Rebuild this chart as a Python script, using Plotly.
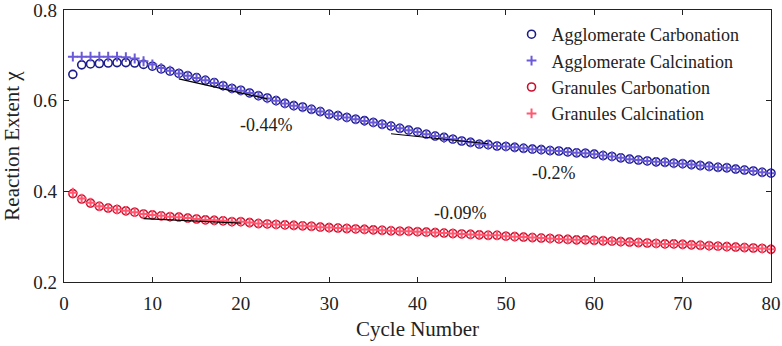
import plotly.graph_objects as go

cycles = list(range(1, 81))

agg_carbonation = [
    0.658, 0.679, 0.681, 0.682, 0.683, 0.684, 0.684, 0.683, 0.680, 0.676,
    0.670, 0.665, 0.660, 0.655, 0.651, 0.645, 0.640, 0.633, 0.627, 0.623,
    0.617, 0.611, 0.606, 0.600, 0.594, 0.589, 0.586, 0.581, 0.576, 0.570,
    0.567, 0.563, 0.559, 0.556, 0.552, 0.548, 0.544, 0.539, 0.535, 0.531,
    0.526, 0.522, 0.519, 0.515, 0.511, 0.508, 0.504, 0.503, 0.500, 0.499,
    0.497, 0.495, 0.493, 0.492, 0.490, 0.489, 0.487, 0.485, 0.484, 0.482,
    0.479, 0.477, 0.474, 0.471, 0.469, 0.467, 0.465, 0.464, 0.462, 0.461,
    0.459, 0.457, 0.455, 0.453, 0.452, 0.449, 0.447, 0.445, 0.442, 0.440]

agg_calcination = [
    0.697, 0.697, 0.697, 0.697, 0.697, 0.697, 0.696, 0.693, 0.687, 0.680,
    0.672, 0.666, 0.660, 0.655, 0.650, 0.645, 0.639, 0.633, 0.627, 0.622,
    0.617, 0.611, 0.605, 0.600, 0.594, 0.589, 0.585, 0.581, 0.576, 0.570,
    0.567, 0.563, 0.559, 0.555, 0.552, 0.548, 0.544, 0.539, 0.535, 0.531,
    0.526, 0.522, 0.518, 0.515, 0.511, 0.508, 0.504, 0.503, 0.500, 0.499,
    0.497, 0.495, 0.493, 0.492, 0.490, 0.489, 0.487, 0.485, 0.484, 0.482,
    0.479, 0.477, 0.474, 0.471, 0.469, 0.467, 0.465, 0.464, 0.462, 0.461,
    0.459, 0.457, 0.455, 0.453, 0.452, 0.449, 0.447, 0.445, 0.442, 0.440]

gran_carbonation = [
    0.395, 0.383, 0.374, 0.367, 0.363, 0.360, 0.357, 0.354, 0.350, 0.348,
    0.346, 0.344, 0.343, 0.341, 0.339, 0.337, 0.336, 0.335, 0.333, 0.333,
    0.331, 0.329, 0.328, 0.327, 0.326, 0.325, 0.324, 0.323, 0.321, 0.320,
    0.319, 0.318, 0.317, 0.316, 0.315, 0.314, 0.313, 0.312, 0.312, 0.311,
    0.310, 0.309, 0.308, 0.307, 0.306, 0.305, 0.304, 0.303, 0.303, 0.301,
    0.300, 0.299, 0.298, 0.297, 0.296, 0.295, 0.294, 0.293, 0.293, 0.292,
    0.291, 0.290, 0.289, 0.288, 0.287, 0.286, 0.285, 0.284, 0.284, 0.283,
    0.282, 0.281, 0.280, 0.279, 0.278, 0.277, 0.276, 0.275, 0.274, 0.272]

gran_calcination = [
    0.397, 0.384, 0.375, 0.367, 0.363, 0.360, 0.357, 0.354, 0.350, 0.348,
    0.346, 0.344, 0.343, 0.341, 0.339, 0.337, 0.336, 0.335, 0.333, 0.333,
    0.331, 0.329, 0.328, 0.327, 0.326, 0.325, 0.324, 0.323, 0.321, 0.320,
    0.319, 0.318, 0.317, 0.316, 0.315, 0.314, 0.313, 0.312, 0.312, 0.311,
    0.310, 0.309, 0.308, 0.307, 0.306, 0.305, 0.304, 0.303, 0.303, 0.301,
    0.300, 0.299, 0.298, 0.297, 0.296, 0.295, 0.294, 0.293, 0.293, 0.292,
    0.291, 0.290, 0.289, 0.288, 0.287, 0.286, 0.285, 0.284, 0.284, 0.283,
    0.282, 0.281, 0.280, 0.279, 0.278, 0.277, 0.276, 0.275, 0.274, 0.272]

# trend lines (cycle start/end, value start/end) and labels
trend_x = [[13, 23], [37, 48], [9, 20]]
trend_y = [[0.648, 0.604], [0.527, 0.505], [0.340, 0.330]]
trend_labels = ["-0.44%", "-0.2%", "-0.09%"]
label_x = [22.9, 55.4, 44.9]
label_y = [0.546, 0.440, 0.352]

x_ticks = [0, 10, 20, 30, 40, 50, 60, 70, 80]
y_ticks = [0.2, 0.4, 0.6, 0.8]

FONT = "Liberation Serif"
TXT = "#222"

fig = go.Figure()

series = [
    ("Agglomerate Carbonation", agg_carbonation, "circle-open", "#1b1b8a", 8, 1.6),
    ("Agglomerate Calcination", agg_calcination, "cross-thin-open", "#6a5ad8", 7, 2),
    ("Granules Carbonation", gran_carbonation, "circle-open", "#c8102e", 8, 1.6),
    ("Granules Calcination", gran_calcination, "cross-thin-open", "#ff5870", 7, 2),
]
for i, (name, vals, sym, col, size, lw) in enumerate(series):
    fig.add_trace(go.Scatter(
        x=cycles, y=vals, mode="markers", name=name,
        legendgroup=f"g{i}",
        marker=dict(symbol=sym, size=size, color=col, line=dict(color=col, width=lw)),
        cliponaxis=False,
    ))

for tx, ty in zip(trend_x, trend_y):
    fig.add_trace(go.Scatter(x=tx, y=ty, mode="lines", showlegend=False,
                             line=dict(color="black", width=1.2), hoverinfo="skip"))

for lx, ly, lt in zip(label_x, label_y, trend_labels):
    fig.add_annotation(x=lx, y=ly, text=lt, showarrow=False,
                       font=dict(family=FONT, size=18, color=TXT))

axis_common = dict(
    showgrid=False, zeroline=False, showline=True, linecolor=TXT, linewidth=1.2,
    mirror="allticks", ticks="inside", ticklen=5, tickcolor=TXT, tickwidth=1.2,
    tickfont=dict(family=FONT, size=19, color=TXT), automargin=False,
    ticklabeloverflow="allow",
)

fig.update_layout(
    width=782, height=346,
    margin=dict(l=64, r=11, t=10, b=64),
    paper_bgcolor="white", plot_bgcolor="white",
    xaxis=dict(range=[0, 80], tickvals=x_ticks, ticklabelstandoff=4,
               title=dict(text="Cycle Number", font=dict(family=FONT, size=21, color=TXT), standoff=8),
               **axis_common),
    yaxis=dict(range=[0.2, 0.8], tickvals=y_ticks, tickformat=".1f", ticklabelstandoff=2,
               title=dict(text="Reaction Extent χ", font=dict(family=FONT, size=21, color=TXT), standoff=8),
               **axis_common),
    legend=dict(x=0.633, y=0.978, xanchor="left", yanchor="top",
                font=dict(family=FONT, size=18, color=TXT),
                bgcolor="rgba(255,255,255,0)", tracegroupgap=0),
    showlegend=True,
)

fig.write_html("out.html", config={"displayModeBar": False},
               post_script="document.body.style.margin='0';document.body.style.overflow='hidden';")
